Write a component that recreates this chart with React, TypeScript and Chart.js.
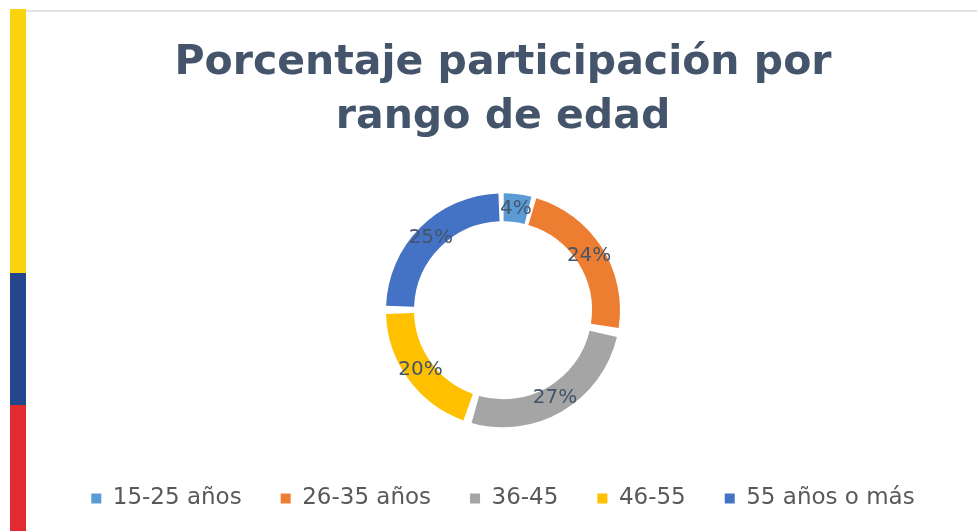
import React, { useEffect, useRef } from "react";
import { Chart, registerables } from "chart.js";

Chart.register(...registerables);

const categories = ["15-25 años", "26-35 años", "36-45", "46-55", "55 años o más"];
const values = [4, 24, 27, 20, 25];
const colors = ["#5B9BD5", "#ED7D31", "#A5A5A5", "#FFC000", "#4472C4"];
const titleLines = ["Porcentaje participación por", "rango de edad"];

const FONT = "'DejaVu Sans', 'Open Sans', sans-serif";

const labelPlugin = {
  id: "arcLabels",
  afterDatasetsDraw(chart: any) {
    const ctx = chart.ctx;
    const meta = chart.getDatasetMeta(0);
    const data = chart.data.datasets[0].data as number[];
    ctx.save();
    ctx.font = `20px ${FONT}`;
    ctx.fillStyle = "#44546A";
    ctx.textAlign = "center";
    ctx.textBaseline = "middle";
    meta.data.forEach((arc: any, i: number) => {
      const p = arc.getProps(["x", "y", "startAngle", "endAngle", "innerRadius", "outerRadius"], true);
      const a = (p.startAngle + p.endAngle) / 2;
      const r = (p.innerRadius + p.outerRadius) / 2 + 4;
      ctx.fillText(`${data[i]}%`, p.x + Math.cos(a) * r, p.y + Math.sin(a) * r);
    });
    ctx.restore();
  },
};

export default function App() {
  const ref = useRef<HTMLCanvasElement | null>(null);
  useEffect(() => {
    if (!ref.current) return;
    const chart = new Chart(ref.current, {
      type: "doughnut",
      data: {
        labels: categories,
        datasets: [
          {
            data: values,
            backgroundColor: colors,
            borderWidth: 0,
            spacing: 10,
            radius: 112,
            cutout: "75%",
          } as any,
        ],
      },
      options: {
        animation: false,
        responsive: true,
        maintainAspectRatio: false,
        layout: { padding: { left: 3, right: 0, top: 0, bottom: 11 } },
        plugins: {
          tooltip: { enabled: false },
          title: {
            display: true,
            text: titleLines,
            color: "#44546A",
            font: { family: FONT, size: 41, weight: "bold", lineHeight: 1.3 },
            padding: { top: 25, bottom: 29 },
          },
          legend: {
            position: "bottom",
            labels: {
              color: "#595959",
              font: { family: FONT, size: 23 },
              boxWidth: 10,
              boxHeight: 10,
              padding: 39,
            },
          },
        },
      },
      plugins: [labelPlugin],
    });
    return () => chart.destroy();
  }, []);

  return (
    <div style={{ position: "fixed", left: 0, top: 0, width: 977, height: 531, background: "#fff", overflow: "hidden" }}>
      <div style={{ position: "absolute", left: 10, top: 9, width: 16, height: 264, background: "#FBD20E" }} />
      <div style={{ position: "absolute", left: 10, top: 273, width: 16, height: 132, background: "#23468F" }} />
      <div style={{ position: "absolute", left: 10, top: 405, width: 16, height: 126, background: "#E22B2F" }} />
      <div style={{ position: "absolute", left: 26, top: 10, width: 951, height: 2, background: "#E3E3E3" }} />
      <div style={{ position: "absolute", left: 26, top: 12, width: 951, height: 519 }}>
        <canvas ref={ref} />
      </div>
    </div>
  );
}
